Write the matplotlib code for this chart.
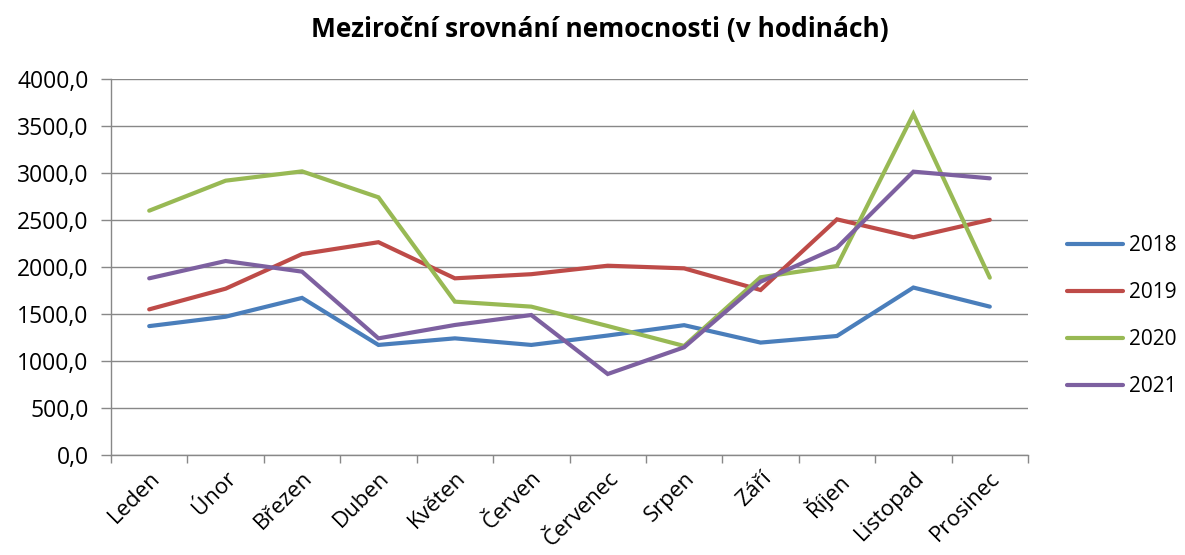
import matplotlib
matplotlib.use("Agg")
import matplotlib.pyplot as plt
from matplotlib.ticker import FixedLocator, FuncFormatter

months = ["Leden", "Únor", "Březen", "Duben", "Květen", "Červen",
          "Červenec", "Srpen", "Září", "Říjen", "Listopad", "Prosinec"]
years = ["2018", "2019", "2020", "2021"]
v2018 = [1370, 1470, 1670, 1170, 1240, 1170, 1270, 1380, 1195, 1265, 1780, 1577]
v2019 = [1548, 1768, 2136, 2262, 1878, 1922, 2012, 1984, 1754, 2505, 2314, 2500]
v2020 = [2597, 2916, 3015, 2739, 1630, 1577, 1371, 1159, 1889, 2009, 3625, 1885]
v2021 = [1878, 2062, 1949, 1240, 1382, 1488, 861, 1145, 1842, 2204, 3012, 2941]
series = [v2018, v2019, v2020, v2021]
colors = ["#4A7EBB", "#BE4B48", "#98B954", "#7D60A0"]
yticks = [0, 500, 1000, 1500, 2000, 2500, 3000, 3500, 4000]

plt.rcParams['font.family'] = ['Open Sans', 'DejaVu Sans']

fig = plt.figure(figsize=(11.85, 5.55), dpi=100)
ax = fig.add_axes([111/1185, 100/555, (1028-111)/1185, (455-78.7)/555])

x = list(range(len(months)))
for vals, col, lab in zip(series, colors, years):
    ax.plot(x, vals, color=col, lw=3.0, label=lab, solid_capstyle='round',
            solid_joinstyle='miter', zorder=3)

ax.set_xlim(-0.5, len(months) - 0.5)
ax.set_ylim(0, 4000)
ax.set_yticks(yticks)
ax.yaxis.set_major_formatter(FuncFormatter(lambda v, p: f"{v:.1f}".replace('.', ',')))
ax.grid(axis='y', color='#888888', lw=1.0)
ax.set_axisbelow(True)

ax.set_xticks(x)
ax.set_xticklabels(months, rotation=45, ha='right', rotation_mode='anchor', fontsize=16)
ax.xaxis.set_minor_locator(FixedLocator([i - 0.5 for i in range(len(months) + 1)]))
ax.tick_params(axis='x', which='major', length=0, pad=9)
ax.tick_params(axis='x', which='minor', length=6, color='#888888', width=1)
ax.tick_params(axis='y', length=7, color='#888888', width=1, labelsize=16.5, pad=9)

for s in ['top', 'right']:
    ax.spines[s].set_visible(False)
for s in ['left', 'bottom']:
    ax.spines[s].set_color('#888888')
    ax.spines[s].set_linewidth(1.0)

fig.text(600/1185, 1 - 30/555, "Meziroční srovnání nemocnosti (v hodinách)",
         ha='center', va='center', fontsize=19, fontweight='bold')

leg = fig.legend(loc='center left', bbox_to_anchor=(1050/1185, 1 - 316/555),
                 frameon=False, fontsize=15, handlelength=2.7, labelspacing=1.25,
                 handletextpad=0.3, borderaxespad=0.4)

fig.savefig("out.png", dpi=100)
